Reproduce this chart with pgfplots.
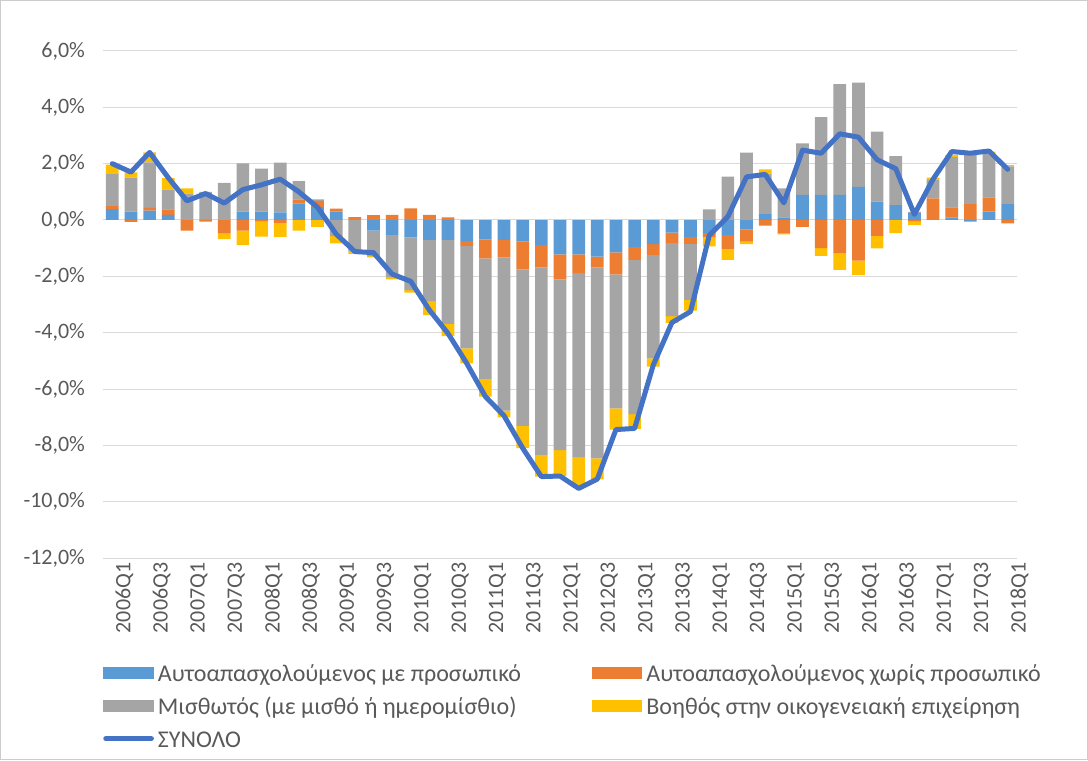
\documentclass[border=0pt]{standalone}
\usepackage{fontspec}
\setmainfont{Carlito}
\usepackage{pgfplots}
\pgfplotsset{compat=1.18}
\usepackage{pgfplotstable}
\definecolor{cb}{HTML}{5B9BD5}
\definecolor{co}{HTML}{ED7D31}
\definecolor{cg}{HTML}{A5A5A5}
\definecolor{cy}{HTML}{FFC000}
\definecolor{cl}{HTML}{4472C4}
\definecolor{ctxt}{HTML}{595959}
\definecolor{cgrid}{HTML}{D9D9D9}

\pgfplotstableread{
i b o g y t
0 0.39 0.10 1.14 0.34 2.00
1 0.30 -0.07 1.20 0.19 1.70
2 0.33 0.10 1.62 0.35 2.40
3 0.18 0.20 0.70 0.41 1.50
4 0.00 -0.38 0.94 0.18 0.68
5 0.02 -0.06 0.98 0.00 0.94
6 0.00 -0.47 1.32 -0.21 0.60
7 0.30 -0.38 1.71 -0.51 1.08
8 0.30 -0.06 1.52 -0.53 1.25
9 0.27 -0.10 1.77 -0.50 1.45
10 0.59 0.14 0.65 -0.38 1.00
11 0.47 0.21 0.05 -0.24 0.45
12 0.30 0.10 -0.57 -0.26 -0.50
13 0.00 0.10 -1.12 -0.08 -1.12
14 -0.38 0.17 -0.90 -0.05 -1.16
15 -0.53 0.18 -1.50 -0.08 -1.92
16 -0.62 0.41 -1.87 -0.09 -2.18
17 -0.71 0.18 -2.17 -0.50 -3.20
18 -0.71 0.09 -2.98 -0.43 -4.03
19 -0.75 -0.17 -3.64 -0.53 -5.09
20 -0.69 -0.67 -4.28 -0.63 -6.27
21 -0.71 -0.62 -5.44 -0.24 -6.95
22 -0.77 -0.98 -5.56 -0.79 -8.10
23 -0.89 -0.79 -6.66 -0.77 -9.11
24 -1.22 -0.89 -6.06 -0.92 -9.09
25 -1.22 -0.67 -6.53 -1.07 -9.53
26 -1.30 -0.38 -6.78 -0.75 -9.20
27 -1.15 -0.78 -4.76 -0.75 -7.44
28 -0.95 -0.47 -5.47 -0.53 -7.40
29 -0.86 -0.38 -3.67 -0.30 -5.15
30 -0.45 -0.36 -2.60 -0.24 -3.64
31 -0.60 -0.25 -1.99 -0.38 -3.25
32 -0.47 -0.15 0.38 -0.32 -0.55
33 -0.53 -0.51 1.54 -0.38 0.12
34 -0.33 -0.44 2.39 -0.09 1.53
35 0.21 -0.20 1.44 0.15 1.62
36 0.09 -0.47 1.03 -0.04 0.61
37 0.89 -0.24 1.83 0.00 2.48
38 0.89 -1.00 2.76 -0.27 2.37
39 0.89 -1.18 3.93 -0.59 3.06
40 1.18 -1.44 3.70 -0.52 2.94
41 0.65 -0.56 2.49 -0.45 2.14
42 0.53 0.00 1.74 -0.47 1.82
43 0.24 -0.06 0.05 -0.12 0.20
44 0.00 0.77 0.65 0.08 1.45
45 0.08 0.37 1.78 0.08 2.43
46 -0.06 0.56 1.75 0.05 2.37
47 0.30 0.50 1.57 0.06 2.45
48 0.56 -0.12 1.34 0.05 1.80
}\data

\pgfplotsset{
  common/.style={
    at={(77.25pt,151.5pt)}, anchor=south west,
    scale only axis, width=685.5pt, height=380.25pt,
    xmin=-0.5, xmax=48.5, ymin=-12, ymax=6,
  },
  barlegend/.style={legend image code/.code={\fill[##1] (0pt,-2.35pt) rectangle (38pt,6.85pt);}},
  linelegend/.style={legend image code/.code={\draw[##1] (2pt,2.25pt) -- (36pt,2.25pt);}},
}

\begin{document}
\begin{tikzpicture}
\useasboundingbox (0,0) rectangle (816pt,570pt);
\draw[color=gray!40, line width=0.75pt] (0.375pt,0.375pt) rectangle (815.625pt,569.625pt);
\begin{axis}[common,
  ybar stacked, bar width=0.68,
  ytick={-12,-10,...,6},
  xtick={0,2,...,48},
  xticklabels={2006Q1,2006Q3,2007Q1,2007Q3,2008Q1,2008Q3,2009Q1,2009Q3,2010Q1,2010Q3,2011Q1,2011Q3,2012Q1,2012Q3,2013Q1,2013Q3,2014Q1,2014Q3,2015Q1,2015Q3,2016Q1,2016Q3,2017Q1,2017Q3,2018Q1},
  axis line style={draw=none},
  tick style={draw=none},
  ymajorgrids, grid style={color=cgrid, line width=0.75pt},
  yticklabel={\pgfmathprintnumber[fixed,fixed zerofill,precision=1,use comma]{\tick}\%},
  /pgf/number format/assume math mode=true,
  tick label style={font=\fontsize{16.5}{19}\selectfont, text=ctxt},
  yticklabel style={anchor=east, xshift=-10pt},
  xticklabel style={rotate=90, anchor=east, yshift=-9pt},
  legend columns=2,
  legend cell align=left,
  legend style={draw=none, fill=none, at={(0,-0.204)}, anchor=north west,
    font=\fontsize{18}{21}\selectfont, text=ctxt, inner sep=0pt,
    nodes={text height=12.5pt, text depth=4.5pt, inner xsep=3pt, inner ysep=2pt},
    row sep=3.75pt,
    /tikz/every even column/.append style={column sep=50pt}},
]
\addplot[fill=cb, draw=none, barlegend] table[x=i, y expr={max(\thisrow{b},0)}] {\data};
\addlegendentry{Αυτοαπασχολούμενος με προσωπικό}
\addplot[fill=co, draw=none, barlegend] table[x=i, y expr={max(\thisrow{o},0)}] {\data};
\addlegendentry{Αυτοαπασχολούμενος χωρίς προσωπικό}
\addplot[fill=cg, draw=none, barlegend] table[x=i, y expr={max(\thisrow{g},0)}] {\data};
\addlegendentry{Μισθωτός (με μισθό ή ημερομίσθιο)}
\addplot[fill=cy, draw=none, barlegend] table[x=i, y expr={max(\thisrow{y},0)}] {\data};
\addlegendentry{Βοηθός στην οικογενειακή επιχείρηση}
\addplot[fill=cb, draw=none, forget plot] table[x=i, y expr={min(\thisrow{b},0)}] {\data};
\addplot[fill=co, draw=none, forget plot] table[x=i, y expr={min(\thisrow{o},0)}] {\data};
\addplot[fill=cg, draw=none, forget plot] table[x=i, y expr={min(\thisrow{g},0)}] {\data};
\addplot[fill=cy, draw=none, forget plot] table[x=i, y expr={min(\thisrow{y},0)}] {\data};
\addlegendimage{color=cl, line width=4pt, line cap=round, linelegend}
\addlegendentry{ΣΥΝΟΛΟ}
\end{axis}
\begin{axis}[common, hide axis]
\addplot[color=cl, line width=3.75pt, line join=round, line cap=round, mark=none] table[x=i, y=t] {\data};
\end{axis}
\end{tikzpicture}
\end{document}
